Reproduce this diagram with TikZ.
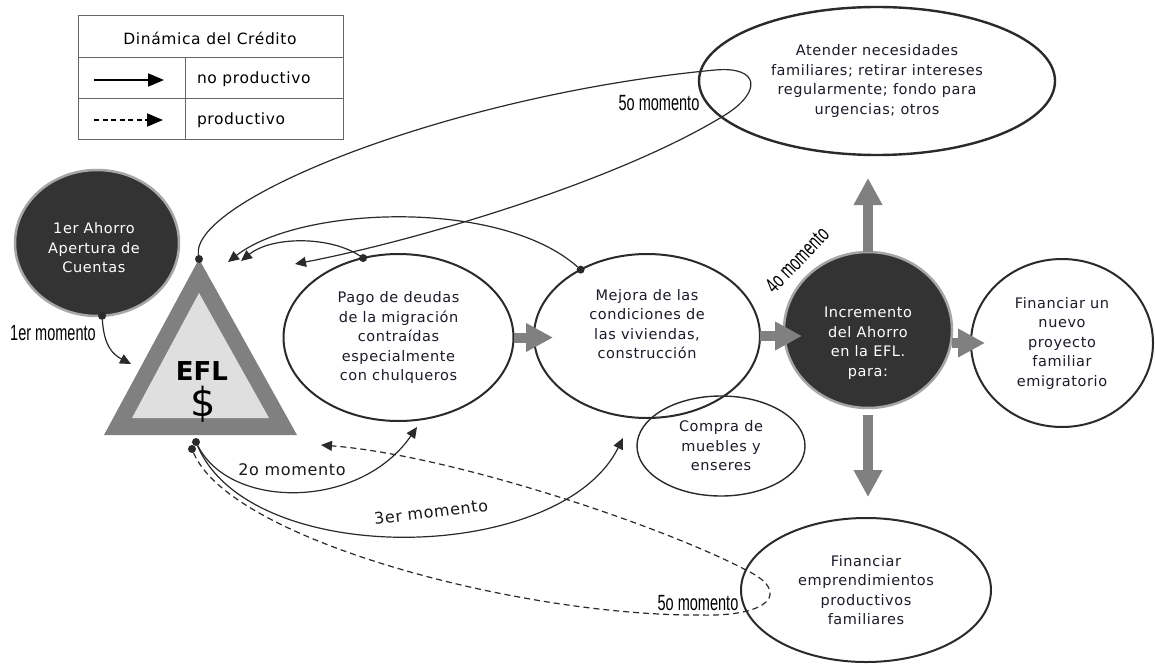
\documentclass[tikz,border=0pt]{standalone}
\usepackage{fontspec}
\setmainfont{DejaVu Sans}[LetterSpace=4]
\newfontfamily\narrowfont{Liberation Sans}[FakeStretch=0.66]
\newfontfamily\eflfont{DejaVu Sans}
\usetikzlibrary{arrows.meta,shapes.geometric}
\definecolor{bigarrowgray}{HTML}{808080}
\definecolor{darkfill}{HTML}{333333}
\definecolor{linecol}{HTML}{2A2A2A}
\definecolor{txtcol}{HTML}{1E1A28}
\begin{document}
\begin{tikzpicture}[x=1pt,y=-1pt,
  every node/.style={inner sep=0pt, outer sep=0pt, font=\fontsize{14.5}{19.5}\selectfont, text=txtcol},
  oval/.style={ellipse, draw=linecol, line width=2pt, align=center},
  darkoval/.style={ellipse, draw=gray!70, line width=2.5pt, fill=darkfill},
  whitetxt/.style={align=center, text=white},
  txt/.style={align=center},
  conn/.style={draw=linecol, line width=1.2pt, -{Triangle[length=11pt,width=10pt]}},
  dconn/.style={conn, dash pattern=on 6pt off 4pt},
  dotnode/.style={circle, fill=linecol, minimum size=8pt, inner sep=0pt},
  bigarrow/.style={draw=bigarrowgray, line width=10pt, -{Triangle[length=27pt,width=27pt]}},
  narrowlabel/.style={font=\narrowfont\fontsize{22}{22}\selectfont, text=black},
  momlabel/.style={font=\fontsize{16}{18}\selectfont, text=black!90},
  legtext/.style={font=\fontsize{15.5}{18}\selectfont, text=black},
  legarrow/.style={draw=black, line width=2pt, -{Triangle[length=16pt,width=13pt]}},
]
\fill[white] (0,0) rectangle (1155,666);
\useasboundingbox (0,0) rectangle (1155,666);

% ---------- legend ----------
\draw[gray!80!black, line width=1pt] (78,16) rectangle (343,139);
\draw[gray!80!black, line width=1pt] (78,58) -- (343,58);
\draw[gray!80!black, line width=1pt] (78,99) -- (343,99);
\draw[gray!80!black, line width=1pt] (185,58) -- (185,139);
\node[legtext] (legtitle) at (210,38) {Dinámica del Crédito};
\node[legtext, anchor=west] (legnp) at (197,79) {no productivo};
\node[legtext, anchor=west] (legp) at (197,120) {productivo};
\coordinate (la1) at (94,80);
\coordinate (lb1) at (164,80);
\coordinate (la2) at (94,120);
\coordinate (lb2) at (163,120);
\draw[legarrow] (la1) -- (lb1);
\draw[legarrow, dash pattern=on 5pt off 3.5pt] (la2) -- (lb2);

% ---------- EFL triangle ----------
\fill[bigarrowgray] (199,259) -- (104,435) -- (297,435) -- cycle;
\fill[gray!25] (199,293) -- (132,418) -- (269,418) -- cycle;
\node[font=\eflfont\bfseries\fontsize{26}{26}\selectfont, text=black] (efl) at (202,371) {EFL};
\node[font=\eflfont\fontsize{40}{40}\selectfont, text=black] (dollar) at (203,404) {\$};

% ---------- nodes ----------
\node[darkoval, minimum width=164pt, minimum height=146pt] (ahorro) at (97,243) {};
\node[whitetxt] (ahorrotxt) at (94,248) {1er Ahorro\\Apertura de\\Cuentas};

\node[oval, minimum width=230pt, minimum height=167pt] (pago) at (398.5,337.5)
  {Pago de deudas\\de la migración\\contraídas\\especialmente\\con chulqueros};
\node[oval, minimum width=226pt, minimum height=164pt] (mejora) at (647,336) {};
\node[txt] (mejoratxt) at (647,324) {Mejora de las\\condiciones de\\las viviendas,\\construcción};
\node[oval, line width=1.4pt, minimum width=168pt, minimum height=100pt] (compra) at (721,446)
  {Compra de\\muebles y\\enseres};
\node[darkoval, minimum width=168pt, minimum height=156pt] (incr) at (868,330) {};
\node[whitetxt] (incrtxt) at (868,343) {Incremento\\del Ahorro\\en la EFL.\\para:};
\node[oval, minimum width=182pt, minimum height=168pt] (nuevo) at (1062,343)
  {Financiar un\\nuevo\\proyecto\\familiar\\emigratorio};
\node[oval, line width=2.4pt, minimum width=356pt, minimum height=148pt] (atender) at (877,81)
  {Atender necesidades\\familiares; retirar intereses\\regularmente; fondo para\\urgencias; otros};
\node[oval, minimum width=250pt, minimum height=144pt] (emp) at (866,590)
  {Financiar\\emprendimientos\\productivos\\familiares};

% ---------- big gray arrows ----------
\draw[bigarrow, shorten >=-19pt] (pago.east) -- (pago.east -| mejora.west);
\draw[bigarrow, shorten >=-18pt] (mejora.east) -- (mejora.east -| incr.west);
\draw[bigarrow, shorten >=-14pt] (incr.east |- nuevo.west) -- (nuevo.west);
\draw[bigarrow, shorten >=23pt] (incr.north) -- (incr.north |- atender.south);
\draw[bigarrow, shorten <=7pt, shorten >=21pt] (incr.south) -- (incr.south |- emp.north);

% ---------- labels ----------
\node[narrowlabel] (m1) at (53,333) {1er momento};
\node[momlabel] (m2) at (292,470) {2o momento};
\node[momlabel, rotate=7] (m3) at (431,512) {3er momento};
\node[narrowlabel, rotate=46] (m4) at (797,260) {4o momento};
\node[narrowlabel] (m5a) at (659,103) {5o momento};
\node[narrowlabel] (m5b) at (698,603) {5o momento};

% ---------- dots and end points ----------
\node[dotnode] (dahorro) at (ahorro.-86) {};
\node[dotnode] (dtop) at (199,259) {};
\node[dotnode] (dpago) at (pago.114) {};
\node[dotnode] (dmejora) at (mejora.135) {};
\node[dotnode] (db1) at (196,442) {};
\node[dotnode] (db2) at (192,449) {};
\coordinate (e1) at (131,364);
\coordinate (ta1) at (228,262);
\coordinate (ta2) at (241,261);
\coordinate (ta3) at (295,264);
\coordinate (pa) at (417,427);
\coordinate (ma) at (623,438);
\coordinate (da) at (321,445);

% ---------- connectors ----------
\draw[conn] (dahorro) .. controls (104,345) and (112,354) .. (e1);
\draw[conn] (dtop) .. controls (190,200) and (450,95) .. (715,70)
  .. controls (760,66) and (762,92) .. (725,115)
  .. controls (620,180) and (420,240) .. (ta3);
\draw[conn] (dpago) .. controls (330,236) and (272,236) .. (ta2);
\draw[conn] (dmejora) .. controls (500,198) and (300,206) .. (ta1);
\draw[conn] (db1) .. controls (230,510) and (360,510) .. (pa);
\draw[conn] (db1) .. controls (250,570) and (560,565) .. (ma);
\draw[dconn] (db2) .. controls (230,540) and (520,616) .. (700,615)
  .. controls (770,617) and (792,592) .. (746,570)
  .. controls (660,525) and (450,455) .. (da);
\end{tikzpicture}
\end{document}
